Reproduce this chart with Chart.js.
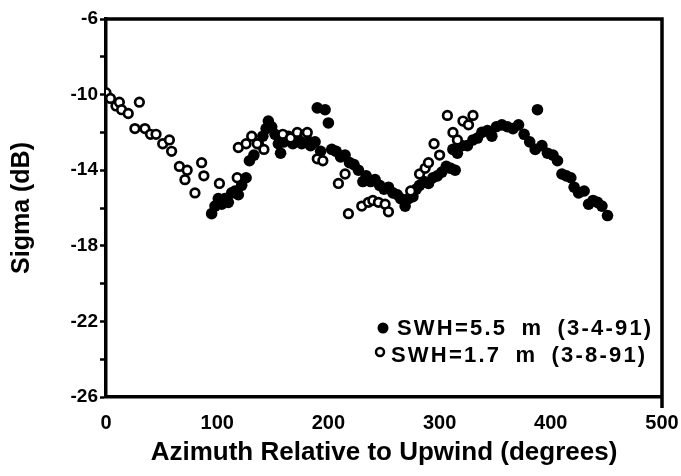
<!DOCTYPE html>
<html>
<head>
<meta charset="utf-8">
<script src="https://cdn.jsdelivr.net/npm/chart.js@4.4.1/dist/chart.umd.min.js"></script>
<style>
  html, body { margin: 0; padding: 0; background: #fff; }
  #wrap { width: 681px; height: 476px; }
</style>
</head>
<body>
<div id="wrap"><canvas id="sigma-chart"></canvas></div>
<script>
// SWH = 5.5 m run (3-4-91), filled dots
var swh55Az = [95,98,101,104,107,110,113,116,119,122,126,129,133,137,141,144,146,149,152,155,157,
  160,164,168,172,176,180,184,188,190,193,197,200,203,207,211,215,219,223,227,231,234,238,242,
  246,250,254,258,262,265,269,272,276,279,282,286,290,294,298,302,306,310,314,312,316,320,325,
  330,334,338,343,347,351,356,361,366,371,376,381,386,388,392,397,402,406,410,414,418,421,425,
  430,434,438,442,446,451];
var swh55Sigma = [-16.3,-15.9,-15.5,-15.8,-15.5,-15.7,-15.2,-15.1,-15.3,-14.8,-14.4,-13.5,-13.2,
  -12.6,-12.2,-11.8,-11.4,-11.7,-12.1,-12.6,-13.1,-12.5,-12.2,-12.6,-12.3,-12.6,-12.3,-12.7,-12.5,
  -10.7,-13.0,-10.8,-11.5,-12.9,-13.0,-13.3,-13.2,-13.6,-13.7,-14.0,-14.6,-14.3,-14.6,-14.5,-14.8,
  -15.0,-14.9,-15.2,-15.3,-15.5,-15.9,-15.5,-15.4,-15.0,-14.8,-14.6,-14.7,-14.4,-14.3,-14.1,-13.8,
  -13.9,-14.0,-12.9,-13.1,-12.7,-12.7,-12.4,-12.3,-12.0,-11.9,-12.2,-11.7,-11.6,-11.7,-11.8,-11.6,
  -12.1,-12.5,-12.9,-10.8,-12.7,-13.1,-13.2,-13.5,-14.2,-14.3,-14.4,-14.9,-15.2,-15.1,-15.8,-15.6,
  -15.7,-15.9,-16.4];

// SWH = 1.7 m run (3-8-91), open circles
var swh17Az = [0,4,9,12,14,20,26,30,35,40,45,51,57,59,66,71,73,80,86,88,102,118,119,126,131,136,
  142,159,166,172,179,181,190,195,209,215,218,230,236,240,245,251,254,274,282,287,290,295,300,
  307,312,316,321,326,330];
var swh17Sigma = [-9.9,-10.2,-10.6,-10.4,-10.8,-11.0,-11.8,-10.4,-11.8,-12.1,-12.1,-12.6,-12.4,
  -13.0,-13.8,-14.5,-14.0,-15.2,-13.6,-14.3,-14.7,-14.4,-12.8,-12.6,-12.2,-12.6,-12.9,-12.1,-12.3,
  -12.0,-12.1,-12.0,-13.4,-13.5,-14.7,-14.2,-16.3,-15.9,-15.7,-15.6,-15.7,-15.8,-16.2,-15.1,-14.2,
  -13.9,-13.6,-12.6,-13.2,-11.1,-12.0,-12.4,-11.4,-11.6,-11.1];

var yTickLabels = [-6, -10, -14, -18, -22, -26];
var legendLabels = ['SWH=5.5 m (3-4-91)', 'SWH=1.7 m (3-8-91)'];

function toPoints(xs, ys) {
  return xs.map(function (x, i) { return { x: x, y: ys[i] }; });
}

var boldFont = '"Liberation Sans", Arial, Helvetica, sans-serif';

// top and right edges of the frame, plus the legend in the lower right
var framePlugin = {
  id: 'frame',
  afterDraw: function (chart) {
    var ctx = chart.ctx, a = chart.chartArea;
    ctx.save();
    ctx.strokeStyle = '#000';
    ctx.lineWidth = 3.5;
    ctx.beginPath();
    ctx.moveTo(a.left, a.top);
    ctx.lineTo(a.right, a.top);
    ctx.lineTo(a.right, a.bottom + 11);
    ctx.stroke();

    ctx.font = 'bold 22px ' + boldFont;
    ctx.fillStyle = '#000';
    ctx.textBaseline = 'middle';
    ctx.letterSpacing = '2.2px';
    ctx.wordSpacing = '6px';
    // filled marker
    ctx.beginPath();
    ctx.arc(383, 328, 5.5, 0, Math.PI * 2);
    ctx.fill();
    ctx.fillText(legendLabels[0], 397, 329);
    // open marker
    ctx.beginPath();
    ctx.lineWidth = 2.5;
    ctx.arc(380, 352, 4, 0, Math.PI * 2);
    ctx.stroke();
    ctx.fillText(legendLabels[1], 391, 356);
    ctx.restore();
  }
};

new Chart(document.getElementById('sigma-chart'), {
  type: 'scatter',
  data: {
    datasets: [
      {
        label: legendLabels[0],
        data: toPoints(swh55Az, swh55Sigma),
        pointRadius: 5.8,
        pointBackgroundColor: '#000',
        pointBorderColor: '#000',
        pointBorderWidth: 0,
        order: 2
      },
      {
        label: legendLabels[1],
        data: toPoints(swh17Az, swh17Sigma),
        pointRadius: 4.3,
        pointBackgroundColor: '#fff',
        pointBorderColor: '#000',
        pointBorderWidth: 2.7,
        order: 1
      }
    ]
  },
  options: {
    responsive: true,
    maintainAspectRatio: false,
    animation: false,
    layout: { padding: { top: 19, right: 19, left: 0, bottom: 0 } },
    plugins: {
      legend: { display: false },
      tooltip: { enabled: false }
    },
    scales: {
      x: {
        type: 'linear',
        min: 0,
        max: 500,
        afterFit: function (s) { s.height = 79; s.paddingRight = 0; },
        grid: { display: false },
        border: { display: true, color: '#000', width: 3.5 },
        ticks: {
          stepSize: 100,
          padding: 6,
          color: '#000',
          font: { family: boldFont, size: 20, weight: 'bold' },
          maxRotation: 0
        },
        title: {
          display: true,
          text: 'Azimuth Relative to Upwind (degrees)',
          color: '#000',
          font: { family: boldFont, size: 26, weight: 'bold' },
          padding: { top: 0, bottom: 8 }
        }
      },
      y: {
        type: 'linear',
        min: -26,
        max: -6,
        afterFit: function (s) { s.width = 106; },
        grid: {
          drawOnChartArea: false,
          drawTicks: true,
          tickLength: 6,
          tickWidth: 2.5,
          tickColor: '#000'
        },
        border: { display: true, color: '#000', width: 3.5 },
        ticks: {
          stepSize: 2,
          padding: 2,
          color: '#000',
          font: { family: boldFont, size: 19, weight: 'bold' },
          callback: function (v) { return yTickLabels.indexOf(v) >= 0 ? String(v) : ''; }
        },
        title: {
          display: true,
          text: 'Sigma (dB)',
          color: '#000',
          font: { family: boldFont, size: 25, weight: 'bold' },
          padding: { top: 7, bottom: 0 }
        }
      }
    }
  },
  plugins: [framePlugin]
});
</script>
</body>
</html>
